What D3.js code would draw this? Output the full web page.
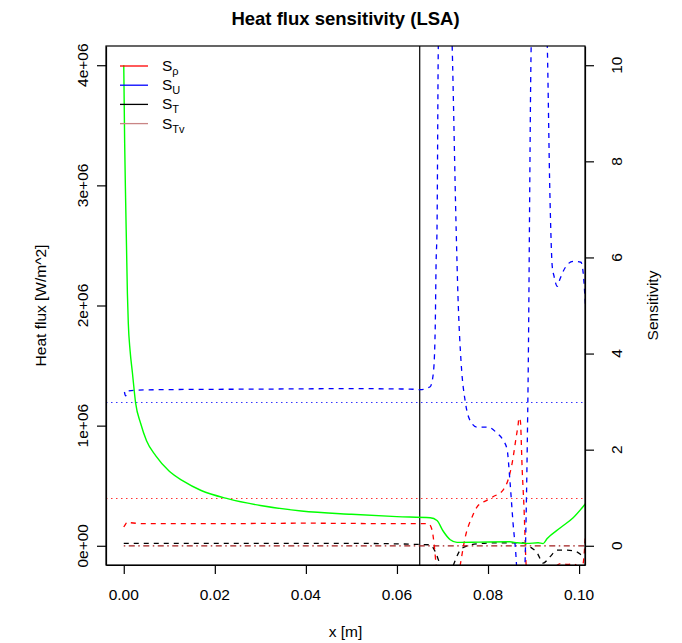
<!DOCTYPE html>
<html>
<head>
<meta charset="utf-8">
<script src="https://cdn.jsdelivr.net/npm/d3@7"></script>
<style>
  body { margin: 0; background: #fff; }
  text { font-family: "Liberation Sans", Arial, Helvetica, sans-serif; }
</style>
</head>
<body>
<div id="chart"></div>
<script>
// Tick values
const xTicks = [0, 0.02, 0.04, 0.06, 0.08, 0.10];
const fluxTicks = [0, 1e6, 2e6, 3e6, 4e6];
const sensTicks = [0, 2, 4, 6, 8, 10];

// Heat flux (left axis, W/m^2 in 1e6)
const fluxX = [0, 0.0002, 0.0004, 0.0006, 0.0008, 0.001, 0.0014, 0.0019, 0.0026, 0.0037, 0.005, 0.007, 0.01, 0.013, 0.017, 0.023, 0.03, 0.039, 0.05, 0.06, 0.0673, 0.0688, 0.0701, 0.0717, 0.0732, 0.078, 0.0848, 0.0864, 0.0886, 0.091, 0.0921, 0.093, 0.0959, 0.0987, 0.1014];
const fluxY = [4.0, 3.35, 2.9, 2.5, 2.1, 1.85, 1.62, 1.44, 1.19, 1.02, 0.875, 0.75, 0.62, 0.54, 0.46, 0.39, 0.335, 0.29, 0.262, 0.243, 0.233, 0.21, 0.125, 0.05, 0.028, 0.03, 0.033, 0.025, 0.02, 0.025, 0.018, 0.06, 0.15, 0.233, 0.35];

// Sensitivities (right axis)
const rhoX = [0, 0.0004, 0.0008, 0.0015, 0.005, 0.02, 0.04, 0.06, 0.0669, 0.0677, 0.0682, 0.0686, 0.07, 0.072, 0.0739, 0.075, 0.0765, 0.0776, 0.0798, 0.0811, 0.0833, 0.0844, 0.0853, 0.0862, 0.0866, 0.0868, 0.0871, 0.0875, 0.0879, 0.0884, 0.0895, 0.093, 0.095, 0.096, 0.0975, 0.0987, 0.0998, 0.1008, 0.1014];
const rhoY = [0.39, 0.45, 0.5, 0.48, 0.46, 0.46, 0.47, 0.46, 0.46, 0.33, 0.0, -0.4, -1.2, -1.5, -0.4, 0.18, 0.6, 0.81, 0.95, 1.02, 1.16, 1.37, 1.72, 2.27, 2.51, 2.66, 2.6, 1.6, 0.8, -0.45, -1.2, -0.8, -0.42, -0.37, -0.39, -0.37, -0.42, -0.4, 0.25];

const uX = [0.00015, 0.0004, 0.001, 0.003, 0.01, 0.03, 0.05, 0.0629, 0.0651, 0.0673, 0.068, 0.0684, 0.0686, 0.0688, 0.0691, 0.0706, 0.0721, 0.073, 0.0734, 0.0741, 0.075, 0.0761, 0.0776, 0.08, 0.082, 0.0833, 0.0842, 0.0848, 0.0855, 0.0862, 0.087, 0.0881, 0.0888, 0.0895, 0.0912, 0.093, 0.0936, 0.0941, 0.0945, 0.0952, 0.0958, 0.0969, 0.0987, 0.1004, 0.1009, 0.1014];
const uY = [3.2, 3.12, 3.22, 3.24, 3.25, 3.26, 3.27, 3.26, 3.25, 3.31, 3.6, 4.5, 5.9, 6.6, 10.5, 14, 10.5, 6.6, 5.2, 3.8, 3.0, 2.6, 2.47, 2.47, 2.34, 2.2, 2.0, 1.37, 0.47, -0.3, -2, -0.45, 3.4, 10.5, 14, 10.5, 7.28, 5.82, 5.61, 5.4, 5.55, 5.78, 5.92, 5.9, 5.68, 5.0];

const tX = [0, 0.01, 0.03, 0.05, 0.0673, 0.0684, 0.0695, 0.071, 0.0724, 0.0743, 0.0776, 0.0811, 0.0848, 0.0877, 0.0892, 0.0908, 0.0921, 0.0936, 0.0952, 0.0974, 0.0996, 0.1006, 0.1014];
const tY = [0.05, 0.05, 0.05, 0.05, 0.02, -0.12, -0.4, -0.8, -0.4, -0.05, 0.04, 0.06, 0.06, 0.06, -0.02, -0.15, -0.36, -0.23, -0.09, -0.09, -0.13, -0.2, -0.25];

const tvX = [0, 0.05, 0.1014];
const tvY = [0, 0, 0];

// Reference levels on the sensitivity axis, and marker position
const refLevels = [3, 1];
const markerX = 0.065;

const legendLabels = [["S", "ρ"], ["S", "U"], ["S", "T"], ["S", "Tv"]];

// Set dimensions
const width = 682;
const height = 643;
const plot = { left: 106, right: 585, top: 46, bottom: 565 };

const svg = d3.select("#chart")
    .append("svg")
    .attr("width", width)
    .attr("height", height);

// Scales
const x = d3.scaleLinear().domain([-0.0039, 0.1013]).range([plot.left, plot.right]);
const yFlux = d3.scaleLinear().domain([-0.16e6, 4.16e6]).range([plot.bottom, plot.top]);
const ySens = d3.scaleLinear().domain([-0.4, 10.4]).range([plot.bottom, plot.top]);

svg.append("clipPath")
    .attr("id", "clip")
    .append("rect")
    .attr("x", plot.left)
    .attr("y", plot.top)
    .attr("width", plot.right - plot.left)
    .attr("height", plot.bottom - plot.top);

const g = svg.append("g").attr("clip-path", "url(#clip)");

const zip = (xs, ys) => xs.map((v, i) => [v, ys[i]]);

// reference lines (dotted)
const refColors = ["#0000ff", "#ff0000"];
refLevels.forEach((v, i) => {
    const yy = Math.round(ySens(v)) + 0.5;
    g.append("line")
        .attr("x1", plot.left).attr("x2", plot.right)
        .attr("y1", yy).attr("y2", yy)
        .attr("stroke", refColors[i])
        .attr("stroke-width", 1.2)
        .attr("stroke-opacity", 0.8)
        .attr("stroke-dasharray", "1.5,3.5");
});

g.append("line")
    .attr("x1", x(markerX)).attr("x2", x(markerX))
    .attr("y1", plot.top).attr("y2", plot.bottom)
    .attr("stroke", "#000")
    .attr("stroke-width", 1.2);

const sensLine = d3.line()
    .x(d => x(d[0]))
    .y(d => ySens(d[1]))
    .curve(d3.curveMonotoneX);

const series = [
    { data: zip(tX, tY), color: "#000", dash: "5,5" },
    { data: zip(tvX, tvY), color: "#a01c1c", dash: "1.5,3.5,6,3.5" },
    { data: zip(rhoX, rhoY), color: "#ff0000", dash: "5,5" },
    { data: zip(uX, uY), color: "#0000ff", dash: "5,5" }
];

series.forEach(s => {
    g.append("path")
        .attr("d", sensLine(s.data))
        .attr("fill", "none")
        .attr("stroke", s.color)
        .attr("stroke-width", 1.3)
        .attr("stroke-dasharray", s.dash);
});

// heat flux
const fluxLine = d3.line()
    .x(d => x(d[0]))
    .y(d => yFlux(d[1] * 1e6))
    .curve(d3.curveMonotoneX);

g.append("path")
    .attr("d", fluxLine(zip(fluxX, fluxY)))
    .attr("fill", "none")
    .attr("stroke", "#00ff00")
    .attr("stroke-width", 1.4);

// Box
svg.append("rect")
    .attr("x", plot.left)
    .attr("y", plot.top)
    .attr("width", plot.right - plot.left)
    .attr("height", plot.bottom - plot.top)
    .attr("fill", "none")
    .attr("stroke", "#000")
    .attr("stroke-width", 1.2);

// Axes (ticks only; labels drawn below)
const fontSize = 15.5;

svg.append("g")
    .attr("transform", `translate(0,${plot.bottom})`)
    .call(d3.axisBottom(x).tickValues(xTicks).tickFormat("").tickSize(9).tickSizeOuter(0));

svg.append("g")
    .attr("transform", `translate(${plot.left},0)`)
    .call(d3.axisLeft(yFlux).tickValues(fluxTicks).tickFormat("").tickSize(9).tickSizeOuter(0));

svg.append("g")
    .attr("transform", `translate(${plot.right},0)`)
    .call(d3.axisRight(ySens).tickValues(sensTicks).tickFormat("").tickSize(9).tickSizeOuter(0));

svg.selectAll(".domain").attr("stroke-width", 1.2);
svg.selectAll(".tick line").attr("stroke-width", 1.2);

const fmtX = d3.format(".2f");
const fmtFlux = d => d === 0 ? "0e+00" : d3.format(".0e")(d).replace(/e\+(\d)$/, "e+0$1");

svg.append("g").selectAll("text")
    .data(xTicks)
    .join("text")
    .attr("x", d => x(d))
    .attr("y", 600)
    .attr("text-anchor", "middle")
    .attr("font-size", fontSize)
    .text(fmtX);

svg.append("g").selectAll("text")
    .data(fluxTicks)
    .join("text")
    .attr("transform", d => `translate(${plot.left - 18},${yFlux(d)}) rotate(-90)`)
    .attr("text-anchor", "middle")
    .attr("font-size", fontSize)
    .text(fmtFlux);

svg.append("g").selectAll("text")
    .data(sensTicks)
    .join("text")
    .attr("transform", d => `translate(${plot.right + 37},${ySens(d)}) rotate(-90)`)
    .attr("text-anchor", "middle")
    .attr("font-size", fontSize)
    .text(d => d);

// Titles
const cx = (plot.left + plot.right) / 2;
const cy = (plot.top + plot.bottom) / 2;

svg.append("text")
    .attr("x", cx)
    .attr("y", 25)
    .attr("text-anchor", "middle")
    .attr("font-size", 18.5)
    .attr("font-weight", "bold")
    .text("Heat flux sensitivity (LSA)");

svg.append("text")
    .attr("x", cx)
    .attr("y", 637)
    .attr("text-anchor", "middle")
    .attr("font-size", fontSize)
    .text("x [m]");

svg.append("text")
    .attr("transform", `translate(46,${cy}) rotate(-90)`)
    .attr("text-anchor", "middle")
    .attr("font-size", fontSize)
    .text("Heat flux [W/m^2]");

svg.append("text")
    .attr("transform", `translate(658,${cy}) rotate(-90)`)
    .attr("text-anchor", "middle")
    .attr("font-size", fontSize)
    .text("Sensitivity");

// Legend
const legendColors = ["#ff0000", "#0000ff", "#000000", "#c98585"];
const legend = svg.append("g").attr("transform", "translate(120,66)");

legend.selectAll("line")
    .data(legendLabels)
    .join("line")
    .attr("x1", 0)
    .attr("x2", 28)
    .attr("y1", (d, i) => i * 19.2)
    .attr("y2", (d, i) => i * 19.2)
    .attr("stroke", (d, i) => legendColors[i])
    .attr("stroke-width", 1.3);

const lt = legend.selectAll("text")
    .data(legendLabels)
    .join("text")
    .attr("x", 42)
    .attr("y", (d, i) => i * 19.2 + 5)
    .attr("font-size", fontSize);

lt.append("tspan").text(d => d[0]);
lt.append("tspan")
    .attr("dy", 4)
    .attr("font-size", 11)
    .text(d => d[1]);
</script>
</body>
</html>
